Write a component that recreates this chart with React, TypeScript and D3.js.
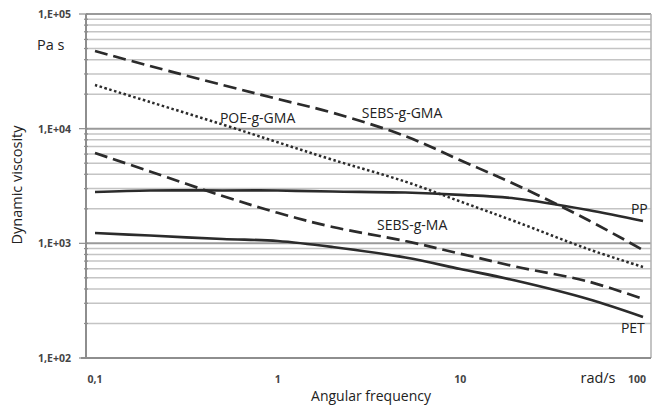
import React, { useEffect, useRef } from 'react';
import * as d3 from 'd3';

// angular frequency (rad/s)
const freq = [0.1, 0.2, 0.5, 1, 2, 5, 10, 20, 50, 100];

// dynamic viscosity (Pa s)
const sebsGGma = [47550, 35200, 24030, 18140, 13770, 8610, 5300, 3260, 1597, 874];
const poeGGma = [24030, 17080, 10870, 7604, 5352, 3453, 2316, 1550, 892, 622];
const pp = [2803, 2888, 2888, 2888, 2831, 2775, 2650, 2460, 1953, 1565];
const sebsGMa = [6136, 4238, 2587, 1846, 1388, 1048, 812, 628, 465, 327];
const pet = [1231, 1170, 1091, 1048, 929, 752, 597, 474, 327, 228];

const yTicks = [100, 1000, 10000, 100000];
const yTickLabels = ['1,E+02', '1,E+03', '1,E+04', '1,E+05'];
const xTicks = [0.1, 1, 10, 100];
const xTickLabels = ['0,1', '1', '10', '100'];

const series = [
  { name: 'SEBS-g-GMA', values: sebsGGma, dash: '13,6' },
  { name: 'POE-g-GMA', values: poeGGma, dash: '2.5,2.5' },
  { name: 'PP', values: pp, dash: null },
  { name: 'SEBS-g-MA', values: sebsGMa, dash: '13,6' },
  { name: 'PET', values: pet, dash: null },
];

// curve labels, placed in data coordinates (start of text, baseline)
const labels = [
  { text: 'POE-g-GMA', f: 0.483, v: 11200 },
  { text: 'SEBS-g-GMA', f: 2.89, v: 12390 },
  { text: 'SEBS-g-MA', f: 3.5, v: 1307 },
  { text: 'PP', f: 85.9, v: 1803 },
  { text: 'PET', f: 75.7, v: 165 },
];

export default function App() {
  const svgRef = useRef<SVGSVGElement>(null);

  useEffect(() => {
    if (!svgRef.current) return;
    const svg = d3.select(svgRef.current);
    svg.selectAll('*').remove();

    const frame = { left: 86, right: 651, top: 14, bottom: 358 };
    const font = "'Open Sans', sans-serif";

    const x = d3.scaleLog().domain([0.1, 100]).range([95, 643]);
    const y = d3.scaleLog().domain([100, 100000]).range([frame.bottom, frame.top]);

    // horizontal grid (minor + major)
    const grid: { v: number; major: boolean }[] = [];
    for (let e = 2; e < 5; e++) {
      for (let k = 1; k < 10; k++) grid.push({ v: k * Math.pow(10, e), major: k === 1 });
    }
    grid.push({ v: 100000, major: true });

    svg.append('g')
      .selectAll('line')
      .data(grid.filter(d => d.v > 100))
      .join('line')
      .attr('x1', frame.left)
      .attr('x2', frame.right)
      .attr('y1', d => y(d.v))
      .attr('y2', d => y(d.v))
      .attr('stroke', d => (d.major ? '#9a9a9a' : '#c4c4c4'))
      .attr('stroke-width', d => (d.major ? 2 : 1.5));

    // right border
    svg.append('line')
      .attr('x1', frame.right).attr('x2', frame.right)
      .attr('y1', frame.top).attr('y2', frame.bottom)
      .attr('stroke', '#b0b0b0').attr('stroke-width', 1.5);

    // axes
    svg.append('line')
      .attr('x1', frame.left).attr('x2', frame.left)
      .attr('y1', frame.top).attr('y2', frame.bottom)
      .attr('stroke', '#8e8e8e').attr('stroke-width', 2);
    svg.append('line')
      .attr('x1', frame.left - 5).attr('x2', frame.right)
      .attr('y1', frame.bottom).attr('y2', frame.bottom)
      .attr('stroke', '#8e8e8e').attr('stroke-width', 2);

    // y tick marks
    svg.append('g')
      .selectAll('line')
      .data(grid)
      .join('line')
      .attr('x1', d => (d.major ? frame.left - 7 : frame.left - 2))
      .attr('x2', frame.left + 2)
      .attr('y1', d => y(d.v))
      .attr('y2', d => y(d.v))
      .attr('stroke', '#8e8e8e')
      .attr('stroke-width', 1.2);

    // y tick labels
    svg.append('g')
      .selectAll('text')
      .data(yTicks)
      .join('text')
      .attr('x', 71)
      .attr('y', d => y(d) + 4)
      .attr('text-anchor', 'end')
      .attr('font-family', font)
      .attr('font-size', 10.5)
      .attr('font-weight', 'bold')
      .attr('fill', '#444')
      .text((d, i) => yTickLabels[i]);

    // x tick labels
    svg.append('g')
      .selectAll('text')
      .data(xTicks)
      .join('text')
      .attr('x', (d, i) => x(d) + (i === 3 ? -6 : 0))
      .attr('y', 383)
      .attr('text-anchor', 'middle')
      .attr('font-family', font)
      .attr('font-size', 10.5)
      .attr('font-weight', 'bold')
      .attr('fill', '#444')
      .text((d, i) => xTickLabels[i]);

    // curves
    const line = d3.line<number>()
      .x((d, i) => x(freq[i]))
      .y(d => y(d))
      .curve(d3.curveCatmullRom.alpha(0.5));

    svg.append('g')
      .selectAll('path')
      .data(series)
      .join('path')
      .attr('d', d => line(d.values))
      .attr('fill', 'none')
      .attr('stroke', '#2b2b2b')
      .attr('stroke-width', d => (d.dash === '2.5,2.5' ? 2.5 : 2.7))
      .attr('stroke-dasharray', d => d.dash ?? null);

    // curve labels
    svg.append('g')
      .selectAll('text')
      .data(labels)
      .join('text')
      .attr('x', d => x(d.f))
      .attr('y', d => y(d.v))
      .attr('font-family', font)
      .attr('font-size', 14)
      .attr('fill', '#222')
      .text(d => d.text);

    // units & titles
    svg.append('text')
      .attr('x', 37).attr('y', 50)
      .attr('font-family', font).attr('font-size', 14.5).attr('fill', '#222')
      .text('Pa s');
    svg.append('text')
      .attr('x', 598).attr('y', 383)
      .attr('text-anchor', 'middle')
      .attr('font-family', font).attr('font-size', 14.5).attr('fill', '#222')
      .text('rad/s');
    svg.append('text')
      .attr('x', 371).attr('y', 401)
      .attr('text-anchor', 'middle')
      .attr('font-family', font).attr('font-size', 14).attr('fill', '#222')
      .text('Angular frequency');
    svg.append('text')
      .attr('transform', 'translate(22,185) rotate(-90)')
      .attr('text-anchor', 'middle')
      .attr('font-family', font).attr('font-size', 14.5).attr('fill', '#222')
      .text('Dynamic viscosity');
  }, []);

  return (
    <svg
      ref={svgRef}
      width={655}
      height={405}
      style={{ position: 'absolute', left: 0, top: 0, background: '#fff' }}
    />
  );
}
